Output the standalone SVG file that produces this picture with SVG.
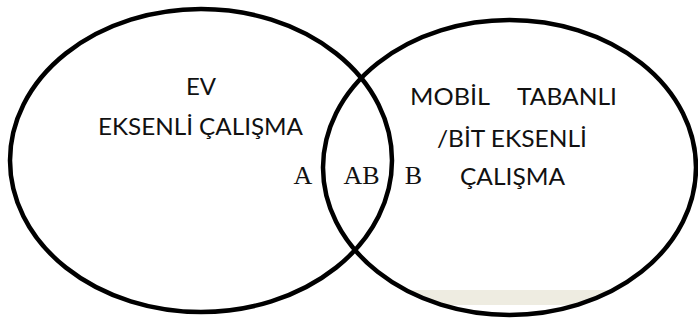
<svg xmlns="http://www.w3.org/2000/svg" width="698" height="322" viewBox="0 0 698 322">
  <style>
    .ring { fill: none; stroke: #000; stroke-width: 4.5; }
    .lbl { font-family: "Lato", "Open Sans", "Noto Sans", "Liberation Sans", sans-serif; font-size: 24px; fill: #111; text-anchor: middle; }
    .set { font-family: "Liberation Serif", "DejaVu Serif", serif; font-size: 26px; fill: #111; text-anchor: middle; }
  </style>
  <defs>
    <clipPath id="rightClip">
      <ellipse cx="509.5" cy="167.5" rx="186.5" ry="147.5"/>
    </clipPath>
  </defs>
  <rect width="698" height="322" fill="#fff"/>
  <rect x="412" y="290" width="200" height="15" fill="#EEECE1" clip-path="url(#rightClip)"/>
  <g id="set-left">
    <ellipse class="ring" cx="201" cy="160.5" rx="191" ry="151.5"/>
    <text class="lbl" x="201" y="95">EV</text>
    <text class="lbl" x="200.5" y="135" textLength="205" lengthAdjust="spacingAndGlyphs">EKSENLİ ÇALIŞMA</text>
  </g>
  <g id="set-right">
    <ellipse class="ring" cx="509.5" cy="167.5" rx="186.5" ry="147.5"/>
    <text class="lbl" x="450" y="105" textLength="80" lengthAdjust="spacingAndGlyphs">MOBİL</text>
    <text class="lbl" x="567" y="105" textLength="100" lengthAdjust="spacingAndGlyphs">TABANLI</text>
    <text class="lbl" x="512" y="147" textLength="150" lengthAdjust="spacingAndGlyphs">/BİT EKSENLİ</text>
    <text class="lbl" x="512.5" y="185" textLength="105" lengthAdjust="spacingAndGlyphs">ÇALIŞMA</text>
  </g>
  <g id="region-labels">
    <text class="set" x="303" y="184">A</text>
    <text class="set" x="361.5" y="184">AB</text>
    <text class="set" x="413.5" y="184">B</text>
  </g>
  <g id="connectors"/>
</svg>
